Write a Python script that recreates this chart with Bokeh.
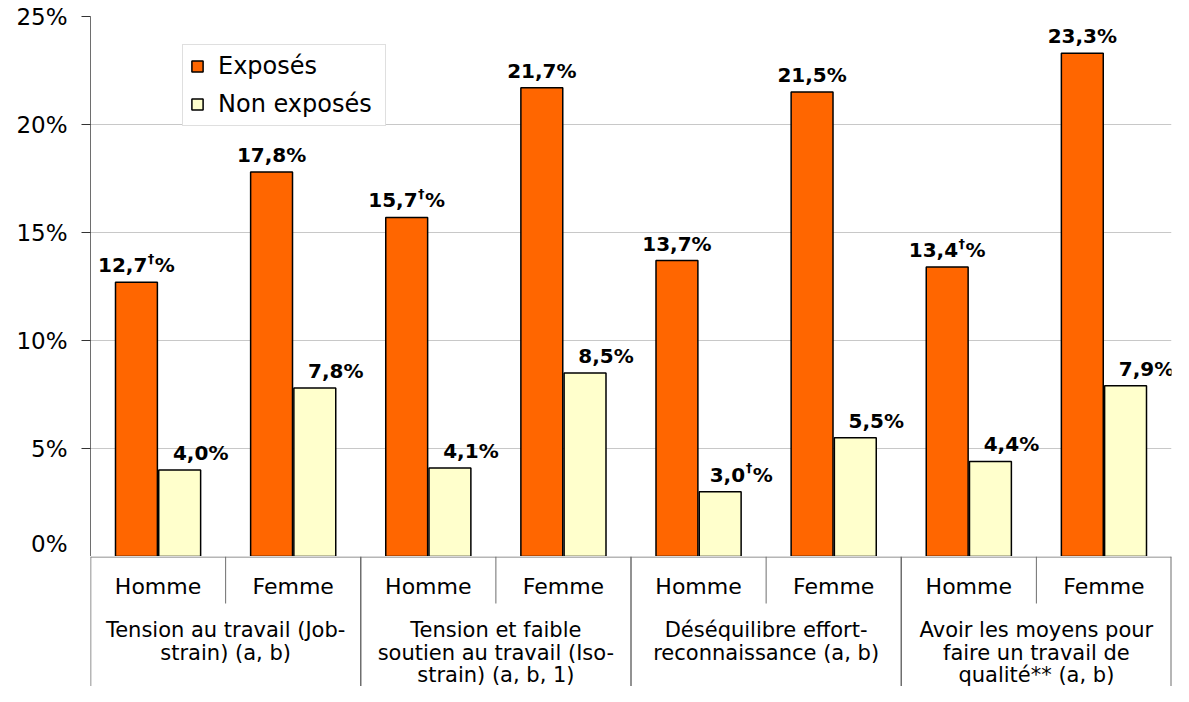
from bokeh.plotting import figure
from bokeh.models import ColumnDataSource, FactorRange, Range1d, FixedTicker, PrintfTickFormatter
from bokeh.transform import dodge
from bokeh.layouts import column
from bokeh.core.properties import value
from bokeh.embed import file_html
from bokeh.resources import INLINE

# ---------------- data ----------------
groups = [
    "Tension au travail (Job-\nstrain) (a, b)",
    "Tension et faible\nsoutien au travail (Iso-\nstrain) (a, b, 1)",
    "Déséquilibre effort-\nreconnaissance (a, b)",
    "Avoir les moyens pour\nfaire un travail de\nqualité** (a, b)",
]
sexes = ["Homme", "Femme"]
series_names = ["Exposés", "Non exposés"]
exposes = [12.7, 17.8, 15.7, 21.7, 13.7, 21.5, 13.4, 23.3]
non_exposes = [4.0, 7.8, 4.1, 8.5, 3.0, 5.5, 4.4, 7.9]
exposes_dagger = [True, False, True, False, False, False, True, False]
non_exposes_dagger = [False, False, False, False, True, False, False, False]
y_ticks = [0, 5, 10, 15, 20, 25]

# ---------------- styles ----------------
ORANGE = "#FF6600"
YELLOW = "#FFFFCC"
AXIS_GREY = "#6e6e6e"
GRID_GREY = "#c8c8c8"
FONT = "DejaVu Sans"
W = 1173
MAIN_H = 556
BOTTOM_H = 130
LB, RB = 90, 2
BAR_W = 0.31
DODGE = 0.16

factors = [(g, s) for g in groups for s in sexes]
xr = FactorRange(*factors, factor_padding=0, group_padding=0, range_padding=0)

p = figure(width=W, height=MAIN_H, x_range=xr, y_range=Range1d(0, 25),
           x_axis_location=None, output_backend="svg", toolbar_location=None,
           min_border_left=LB, min_border_right=RB, min_border_top=16, min_border_bottom=0)
p.outline_line_color = None
p.background_fill_color = "white"
p.border_fill_color = "white"
p.xgrid.grid_line_color = None
p.ygrid.grid_line_color = GRID_GREY
p.ygrid.grid_line_width = 1
p.ygrid.ticker = FixedTicker(ticks=y_ticks)

ax = p.yaxis[0]
ax.ticker = FixedTicker(ticks=y_ticks)
ax.formatter = PrintfTickFormatter(format="%d%%")
ax.major_label_text_font = FONT
ax.major_label_text_font_size = "23px"
ax.major_label_text_color = "black"
ax.major_label_standoff = 14
ax.major_tick_out = 9
ax.major_tick_in = 0
ax.minor_tick_line_color = None
ax.axis_line_color = AXIS_GREY
ax.major_tick_line_color = "#333333"

src = ColumnDataSource(dict(x=factors, exp=exposes, non=non_exposes))
p.vbar(x=dodge("x", -DODGE, range=xr), top="exp", width=BAR_W, source=src,
       fill_color=ORANGE, line_color="black", line_width=1.5, legend_label=series_names[0])
p.vbar(x=dodge("x", DODGE, range=xr), top="non", width=BAR_W, source=src,
       fill_color=YELLOW, line_color="black", line_width=1.5, legend_label=series_names[1])

# ---------------- data labels ----------------
LBL_SIZE = 20
DAG_SIZE = 13
GAP = 17


def fmt(v):
    return f"{v:.1f}".replace(".", ",")


def text_width(s):
    w = 0.0
    for ch in s:
        w += 0.38 if ch == "," else 0.696
    return w * LBL_SIZE


series_sources = []
for vals, flags, shift, extra in ((exposes, exposes_dagger, -DODGE, 0),
                                  (non_exposes, non_exposes_dagger, DODGE, 21)):
    pl = dict(x=[], y=[], text=[], xo=[])
    nu = dict(x=[], y=[], text=[], xo=[])
    dg = dict(x=[], y=[], text=[], xo=[])
    pc = dict(x=[], y=[], text=[], xo=[])
    for f, v, d in zip(factors, vals, flags):
        s = fmt(v)
        if not d:
            pl["x"].append(f); pl["y"].append(v); pl["text"].append(s + "%"); pl["xo"].append(extra)
        else:
            wn = text_width(s)
            wd = 0.5 * DAG_SIZE + 1
            wp = 1.002 * LBL_SIZE
            left = -(wn + wd + wp) / 2 + extra
            nu["x"].append(f); nu["y"].append(v); nu["text"].append(s); nu["xo"].append(left + wn)
            dg["x"].append(f); dg["y"].append(v); dg["text"].append("†"); dg["xo"].append(left + wn + wd / 2)
            pc["x"].append(f); pc["y"].append(v); pc["text"].append("%"); pc["xo"].append(left + wn + wd)
    series_sources.append((shift, pl, nu, dg, pc))

for shift, pl, nu, dg, pc in series_sources:
    xs = dodge("x", shift, range=xr)
    common = dict(text_font=value(FONT), text_font_style="bold", text_color="black",
                  text_baseline="alphabetic")
    if pl["x"]:
        p.text(x=xs, y="y", text="text", x_offset="xo", y_offset=-GAP, source=ColumnDataSource(pl),
               text_align="center", text_font_size=f"{LBL_SIZE}px", **common)
    if nu["x"]:
        p.text(x=xs, y="y", text="text", x_offset="xo", y_offset=-GAP, source=ColumnDataSource(nu),
               text_align="right", text_font_size=f"{LBL_SIZE}px", **common)
        p.text(x=xs, y="y", text="text", x_offset="xo", y_offset=-GAP - 7, source=ColumnDataSource(dg),
               text_align="center", text_font_size=f"{DAG_SIZE}px", **common)
        p.text(x=xs, y="y", text="text", x_offset="xo", y_offset=-GAP, source=ColumnDataSource(pc),
               text_align="left", text_font_size=f"{LBL_SIZE}px", **common)

# ---------------- legend ----------------
lg = p.legend[0]
lg.location = (92, 430)
lg.margin = 0
lg.padding = 7
lg.spacing = 10
lg.label_height = 26
lg.label_width = 160
lg.glyph_width = 14
lg.glyph_height = 14
lg.label_standoff = 14
lg.label_text_font = FONT
lg.label_text_font_size = "24px"
lg.label_text_color = "black"
lg.border_line_color = "#c0c0c0"
lg.border_line_width = 1
lg.background_fill_color = "white"
lg.background_fill_alpha = 1.0

# ---------------- category axis (multi-level) ----------------
p2 = figure(width=W, height=BOTTOM_H, x_range=xr, y_range=Range1d(BOTTOM_H, 0),
            x_axis_location=None, y_axis_location=None, output_backend="svg", toolbar_location=None,
            min_border_left=LB, min_border_right=RB, min_border_top=0, min_border_bottom=0)
p2.outline_line_color = None
p2.grid.grid_line_color = None
p2.background_fill_color = "white"
p2.border_fill_color = "white"

first_f = [(g, sexes[0]) for g in groups]
last_f = [(groups[-1], sexes[-1])]

# baseline (0 % axis)
p2.segment(x0=dodge("a", -0.5, range=xr), x1=dodge("b", 0.5, range=xr), y0=0.5, y1=0.5,
           source=ColumnDataSource(dict(a=[first_f[0]], b=last_f)), line_color=AXIS_GREY, line_width=1)
# group separators (full height)
p2.segment(x0=dodge("a", -0.5, range=xr), x1=dodge("a", -0.5, range=xr), y0=0, y1=BOTTOM_H,
           source=ColumnDataSource(dict(a=first_f)), line_color=AXIS_GREY, line_width=1.5)
p2.segment(x0=dodge("a", 0.5, range=xr), x1=dodge("a", 0.5, range=xr), y0=0, y1=BOTTOM_H,
           source=ColumnDataSource(dict(a=last_f)), line_color=AXIS_GREY, line_width=2)
# sub separators (between Homme and Femme)
p2.segment(x0=dodge("a", 0.5, range=xr), x1=dodge("a", 0.5, range=xr), y0=0, y1=47,
           source=ColumnDataSource(dict(a=first_f)), line_color=AXIS_GREY, line_width=1)

# sex labels
p2.text(x="x", y=30, text="t", source=ColumnDataSource(dict(x=factors, t=[f[1] for f in factors])),
        text_font=value(FONT), text_font_size="22px", text_align="center", text_baseline="middle",
        text_color="black")

# group labels, one row per line
gx, gy, gt = [], [], []
line_y = [73, 96, 118]
for g in groups:
    for i, ln in enumerate(g.split("\n")):
        gx.append(g)
        gy.append(line_y[i])
        gt.append(ln)
p2.text(x="x", y="y", text="t", source=ColumnDataSource(dict(x=gx, y=gy, t=gt)),
        text_font=value(FONT), text_font_size="21px", text_align="center", text_baseline="middle",
        text_color="black")

layout = column(p, p2, spacing=0)
open("out.html", "w").write(file_html(layout, INLINE))
